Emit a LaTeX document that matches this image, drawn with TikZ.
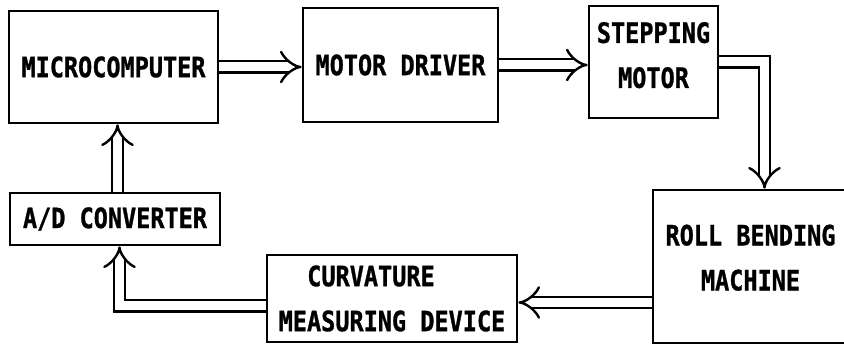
\documentclass[tikz,border=0pt]{standalone}
\usepackage{fontspec}
\newfontfamily\plotfont{DejaVu Sans Mono}[FakeStretch=0.84, FakeBold=1]
\usetikzlibrary{arrows.meta,calc,backgrounds}
\begin{document}
\begin{tikzpicture}[x=1pt,y=-1pt,
  blk/.style={draw, line width=2.6pt, inner sep=0pt, align=center,
    font=\plotfont\bfseries\fontsize{28}{45}\selectfont},
  conn/.style={double, double distance=9pt, line width=2.4pt, -{Implies[length=14pt,width=30pt]}}]
\useasboundingbox (0,0) rectangle (844,347);
\node[blk, minimum width=209pt, minimum height=112pt] (micro) at (113.5,67) {MICROCOMPUTER};
\node[blk, minimum width=195pt, minimum height=114pt] (driver) at (400.5,65) {MOTOR DRIVER};
\node[blk, minimum width=129pt, minimum height=112pt] (step) at (653.5,62) {STEPPING\\MOTOR\rule[-14pt]{0pt}{14pt}};
\node[blk, minimum width=195pt, minimum height=153pt] (roll) at (750.5,266.5) {ROLL BENDING\\MACHINE\rule[-18pt]{0pt}{18pt}};
\node[blk, minimum width=250pt, minimum height=87pt] (curv) at (392,298.5) {CURVATURE\hspace*{42pt}\\MEASURING DEVICE};
\node[blk, minimum width=210pt, minimum height=52pt] (ad) at (115,219) {A/D CONVERTER};
\coordinate (rc) at ($(curv.east)+(0,4)$);
\coordinate (ca) at ($(curv.west)+(0,7.5)$);
\coordinate (as) at ($(ad.south)+(4.5,0)$);
\coordinate (an) at ($(ad.north)+(2.5,0)$);
\coordinate (rn) at ($(roll.north)+(14,0)$);
\begin{scope}[on background layer]
\draw[conn] (micro.east) -- (micro.east -| driver.west);
\draw[conn] (driver.east) -- (driver.east -| step.west);
\draw[conn] (step.east) -| (rn);
\draw[conn] (roll.west |- rc) -- (rc);
\draw[conn] (ca) -| (as);
\draw[conn] (an) -- (an |- micro.south);
\end{scope}
\end{tikzpicture}
\end{document}
